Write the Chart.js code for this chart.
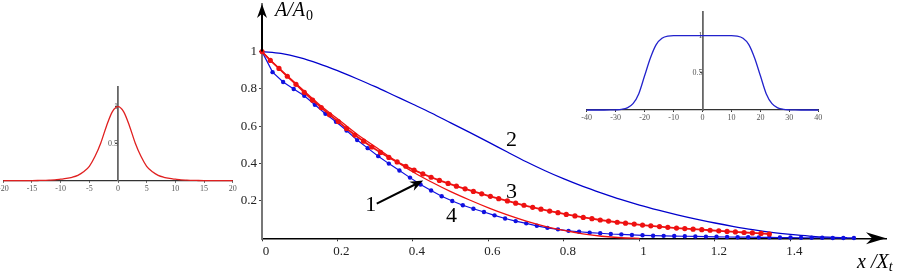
<!DOCTYPE html>
<html>
<head>
<meta charset="utf-8">
<script src="https://cdn.jsdelivr.net/npm/chart.js@4.4.1/dist/chart.umd.min.js"></script>
<style>
  html, body { margin: 0; padding: 0; background: #fff; overflow: hidden; }
  #wrap { position: relative; width: 909px; height: 272px; overflow: hidden; }
  canvas { position: absolute; }
</style>
</head>
<body>
<div id="wrap">
  <canvas id="main" width="909" height="272" style="left:0;top:0"></canvas>
  <canvas id="insetL" width="300" height="120" style="left:-30px;top:80px"></canvas>
  <canvas id="insetR" width="280" height="130" style="left:560px;top:0"></canvas>
</div>
<script>
// ---- main plot data (x / X_t , A / A0) ----
const curve1X = [0,0.05,0.1,0.15,0.2,0.25,0.3,0.35,0.4,0.45,0.5,0.55,0.6,0.65,0.7,0.75,0.8,0.85,0.9,0.95,1.0];
const curve1Y = [1.0,0.90,0.81,0.72,0.64,0.56,0.49,0.42,0.355,0.30,0.25,0.205,0.163,0.125,0.092,0.064,0.042,0.024,0.011,0.003,0.0];

const curve2X = [0,0.05,0.1,0.15,0.2,0.25,0.3,0.35,0.4,0.45,0.5,0.55,0.6,0.65,0.7,0.75,0.8,0.85,0.9,0.95,1.0,1.05,1.1,1.15,1.2,1.25,1.3,1.35,1.4,1.45,1.5,1.55];
const curve2Y = [1.0,0.990,0.968,0.936,0.898,0.856,0.812,0.765,0.718,0.670,0.618,0.567,0.515,0.462,0.410,0.362,0.318,0.278,0.242,0.208,0.178,0.151,0.126,0.103,0.082,0.063,0.046,0.032,0.021,0.012,0.006,0.003];

const curve3X = [0,0.022,0.045,0.067,0.090,0.112,0.134,0.157,0.179,0.202,0.224,0.246,0.269,0.291,0.314,0.336,0.358,0.381,0.403,0.426,0.448,0.470,0.493,0.515,0.538,0.560,0.582,0.605,0.627,0.650,0.672,0.694,0.717,0.739,0.762,0.784,0.806,0.829,0.851,0.874,0.896,0.918,0.941,0.963,0.986,1.008,1.030,1.053,1.075,1.098,1.120,1.142,1.165,1.187,1.210,1.232,1.254,1.277,1.299,1.322,1.344];
const curve3Y = [1.0,0.953,0.910,0.868,0.825,0.782,0.740,0.700,0.662,0.625,0.588,0.553,0.520,0.489,0.460,0.433,0.409,0.386,0.365,0.345,0.327,0.310,0.294,0.279,0.265,0.251,0.238,0.225,0.212,0.200,0.188,0.177,0.166,0.156,0.146,0.137,0.128,0.120,0.112,0.105,0.098,0.092,0.086,0.081,0.076,0.071,0.067,0.063,0.059,0.055,0.052,0.049,0.046,0.043,0.040,0.037,0.034,0.031,0.029,0.026,0.023];

const curve4X = [0,0.028,0.056,0.084,0.112,0.14,0.168,0.196,0.224,0.252,0.28,0.308,0.336,0.364,0.392,0.42,0.448,0.476,0.504,0.532,0.56,0.588,0.616,0.644,0.672,0.7,0.728,0.756,0.784,0.812,0.84,0.868,0.896,0.924,0.952,0.98,1.008,1.036,1.064,1.092,1.12,1.148,1.176,1.204,1.232,1.26,1.288,1.316,1.344,1.372,1.4,1.428,1.456,1.484,1.512,1.54,1.568];
const curve4Y = [1.0,0.89,0.837,0.80,0.763,0.715,0.667,0.624,0.577,0.526,0.483,0.44,0.40,0.363,0.325,0.288,0.256,0.225,0.200,0.177,0.158,0.141,0.123,0.106,0.092,0.080,0.067,0.056,0.048,0.040,0.035,0.030,0.027,0.023,0.021,0.018,0.016,0.014,0.013,0.012,0.011,0.010,0.009,0.008,0.007,0.006,0.006,0.005,0.005,0.004,0.004,0.003,0.003,0.003,0.002,0.002,0.002];

const xTickValues = [0,0.2,0.4,0.6,0.8,1,1.2,1.4];
const yTickValues = [0.2,0.4,0.6,0.8,1];
const curveNames = ['1','2','3','4'];

// ---- insets ----
const insetLeftX = [-20,-19,-18,-17,-16,-15,-14,-13,-12,-11,-10,-9,-8,-7,-6,-5,-4,-3,-2,-1,0,1,2,3,4,5,6,7,8,9,10,11,12,13,14,15,16,17,18,19,20];
const insetLeftY = [0,0,0,0.001,0.001,0.002,0.003,0.004,0.007,0.011,0.02,0.03,0.046,0.072,0.12,0.195,0.33,0.51,0.74,0.93,1.0,0.93,0.74,0.51,0.33,0.195,0.12,0.072,0.046,0.03,0.02,0.011,0.007,0.004,0.003,0.002,0.001,0.001,0,0,0];
const insetLeftTicks = [-20,-15,-10,-5,0,5,10,15,20];

const insetRightX = [-40,-38,-36,-34,-32,-30,-28,-26,-24,-22,-20,-18,-16,-14,-12,-10,-8,-6,-4,-2,0,2,4,6,8,10,12,14,16,18,20,22,24,26,28,30,32,34,36,38,40];
const insetRightY = [0,0,0,0,0.001,0.003,0.009,0.028,0.085,0.22,0.46,0.70,0.88,0.965,0.995,1,1,1,1,1,1,1,1,1,1,1,0.995,0.965,0.88,0.70,0.46,0.22,0.085,0.028,0.009,0.003,0.001,0,0,0,0];
const insetRightTicks = [-40,-30,-20,-10,0,10,20,30,40];
const insetYTicks = [0.5,1];

const RED = '#ee1111';
const BLUE = '#1010e0';
const SERIF = "'Liberation Serif', 'DejaVu Serif', serif";

const pts = (xs, ys) => xs.map((x, i) => ({x: x, y: ys[i]}));

// where the curve numbers and the pointer arrow sit (data coords)
const labelSpots = [
  {text: curveNames[0], x: 0.288, y: 0.177},
  {text: curveNames[1], x: 0.661, y: 0.527},
  {text: curveNames[2], x: 0.661, y: 0.247},
  {text: curveNames[3], x: 0.502, y: 0.118}
];
const pointer = {from: [0.304, 0.186], to: [0.427, 0.31]};

function arrowHead(ctx, tx, ty, dx, dy, len, half) {
  const bx = tx - dx * len, by = ty - dy * len;
  const nx = -dy, ny = dx;
  ctx.beginPath();
  ctx.moveTo(tx, ty);
  ctx.lineTo(bx + nx * half, by + ny * half);
  ctx.lineTo(tx - dx * len * 0.7, ty - dy * len * 0.7);
  ctx.lineTo(bx - nx * half, by - ny * half);
  ctx.closePath();
  ctx.fill();
}

const decorations = {
  id: 'decorations',
  afterDraw(chart) {
    const {ctx, chartArea: a, scales: {x, y}} = chart;
    ctx.save();
    ctx.fillStyle = '#000';
    ctx.strokeStyle = '#000';
    // y axis arrow
    const x0 = x.getPixelForValue(0);
    ctx.lineWidth = 2;
    ctx.beginPath();
    ctx.moveTo(x0, y.getPixelForValue(1));
    ctx.lineTo(x0, a.top + 8);
    ctx.stroke();
    arrowHead(ctx, x0, a.top, 0, -1, 14, 5);
    // x axis arrow
    const y0 = y.getPixelForValue(0);
    arrowHead(ctx, a.right, y0, 1, 0, 20, 6);

    // axis titles
    ctx.textBaseline = 'alphabetic';
    ctx.textAlign = 'left';
    ctx.font = 'italic 20px ' + SERIF;
    ctx.fillText('A/A', 275, 16);
    let w = ctx.measureText('A/A').width;
    ctx.font = '14px ' + SERIF;
    ctx.fillText('0', 275 + w + 1, 20);

    ctx.font = 'italic 20px ' + SERIF;
    ctx.fillText('x /X', 857, 268);
    w = ctx.measureText('x /X').width;
    ctx.font = 'italic 14px ' + SERIF;
    ctx.fillText('t', 857 + w, 271);

    // curve numbers
    ctx.font = '22px ' + SERIF;
    ctx.textAlign = 'center';
    ctx.textBaseline = 'middle';
    labelSpots.forEach(s => ctx.fillText(s.text, x.getPixelForValue(s.x), y.getPixelForValue(s.y)));

    // pointer arrow to curve 1
    const fx = x.getPixelForValue(pointer.from[0]), fy = y.getPixelForValue(pointer.from[1]);
    const tx = x.getPixelForValue(pointer.to[0]), ty = y.getPixelForValue(pointer.to[1]);
    const len = Math.hypot(tx - fx, ty - fy);
    const dx = (tx - fx) / len, dy = (ty - fy) / len;
    ctx.lineWidth = 2;
    ctx.beginPath();
    ctx.moveTo(fx, fy);
    ctx.lineTo(tx - dx * 8, ty - dy * 8);
    ctx.stroke();
    arrowHead(ctx, tx, ty, dx, dy, 13, 5);
    ctx.restore();
  }
};

new Chart(document.getElementById('main'), {
  type: 'scatter',
  data: {
    datasets: [
      {data: pts(curve1X, curve1Y), showLine: true, borderColor: RED, borderWidth: 1.3, pointRadius: 0, cubicInterpolationMode: 'monotone', clip: false},
      {data: pts(curve3X, curve3Y), showLine: true, borderColor: RED, borderWidth: 1.8, pointRadius: 2.6, pointBackgroundColor: RED, pointBorderWidth: 0, clip: false},
      {data: pts(curve4X, curve4Y), showLine: true, borderColor: BLUE, borderWidth: 1.2, pointRadius: 2.2, pointBackgroundColor: BLUE, pointBorderWidth: 0, clip: false},
      {data: pts(curve2X, curve2Y), showLine: true, borderColor: '#0000cc', borderWidth: 1.3, pointRadius: 0, cubicInterpolationMode: 'monotone', clip: false}
    ]
  },
  options: {
    responsive: false,
    animation: false,
    layout: {padding: {left: 232, right: 23, top: 2, bottom: 13.7}},
    plugins: {legend: {display: false}, tooltip: {enabled: false}},
    scales: {
      x: {
        type: 'linear', min: 0, max: 1.653,
        afterFit: s => { s.height = 20; },
        afterBuildTicks: s => { s.ticks = xTickValues.map(v => ({value: v})); },
        grid: {display: true, drawOnChartArea: false, drawTicks: true, tickLength: 3, color: '#333'},
        border: {display: true, color: '#000', width: 1.6},
        ticks: {font: {family: SERIF, size: 13}, color: '#222', padding: 2, labelOffset: 4, maxRotation: 0, autoSkip: false, callback: v => String(v)}
      },
      y: {
        type: 'linear', min: 0, max: 1.255,
        // keep the plot area edge where the arrow tip sits
        afterFit: s => { s.width = 30; s.paddingTop = 0; s.paddingBottom = 0; },
        afterBuildTicks: s => { s.ticks = yTickValues.map(v => ({value: v})); },
        grid: {display: true, drawOnChartArea: false, drawTicks: true, tickLength: 3, color: '#444'},
        border: {display: true, color: '#777', width: 2},
        ticks: {font: {family: SERIF, size: 13}, color: '#222', padding: 2, autoSkip: false, callback: v => String(v)}
      }
    }
  },
  plugins: [decorations]
});

function inset(id, xs, ys, color, xTicks, xMin, xMax, yMax, pad) {
  return new Chart(document.getElementById(id), {
    type: 'scatter',
    data: {datasets: [{data: pts(xs, ys), showLine: true, borderColor: color, borderWidth: 1.3, pointRadius: 0, cubicInterpolationMode: 'monotone', clip: false}]},
    options: {
      responsive: false,
      animation: false,
      layout: {padding: pad},
      plugins: {legend: {display: false}, tooltip: {enabled: false}},
      scales: {
        x: {
          type: 'linear', min: xMin, max: xMax,
          afterFit: s => { s.height = 12; },
          afterBuildTicks: s => { s.ticks = xTicks.map(v => ({value: v})); },
          grid: {display: true, drawOnChartArea: false, drawTicks: true, tickLength: 2, color: '#333'},
          border: {display: true, color: '#333', width: 1.3},
          ticks: {font: {family: SERIF, size: 8}, color: '#555', padding: 1, maxRotation: 0, autoSkip: false, callback: v => String(v)}
        },
        y: {
          type: 'linear', min: 0, max: yMax, position: {x: 0},
          afterBuildTicks: s => { s.ticks = insetYTicks.map(v => ({value: v})); },
          grid: {display: true, drawOnChartArea: false, drawTicks: true, tickLength: 2, color: '#444'},
          border: {display: true, color: '#666', width: 1.8},
          ticks: {font: {family: SERIF, size: 8}, color: '#555', padding: 1, autoSkip: false, callback: v => String(v)}
        }
      }
    }
  });
}

inset('insetL', insetLeftX, insetLeftY, '#e02020', insetLeftTicks, -20, 20, 1.27, {left: 33.3, right: 37.3, top: 6.7, bottom: 7.3});
inset('insetR', insetRightX, insetRightY, '#2222cc', insetRightTicks, -40, 40, 1.319, {left: 26.7, right: 21.7, top: 12, bottom: 8});
</script>
</body>
</html>
